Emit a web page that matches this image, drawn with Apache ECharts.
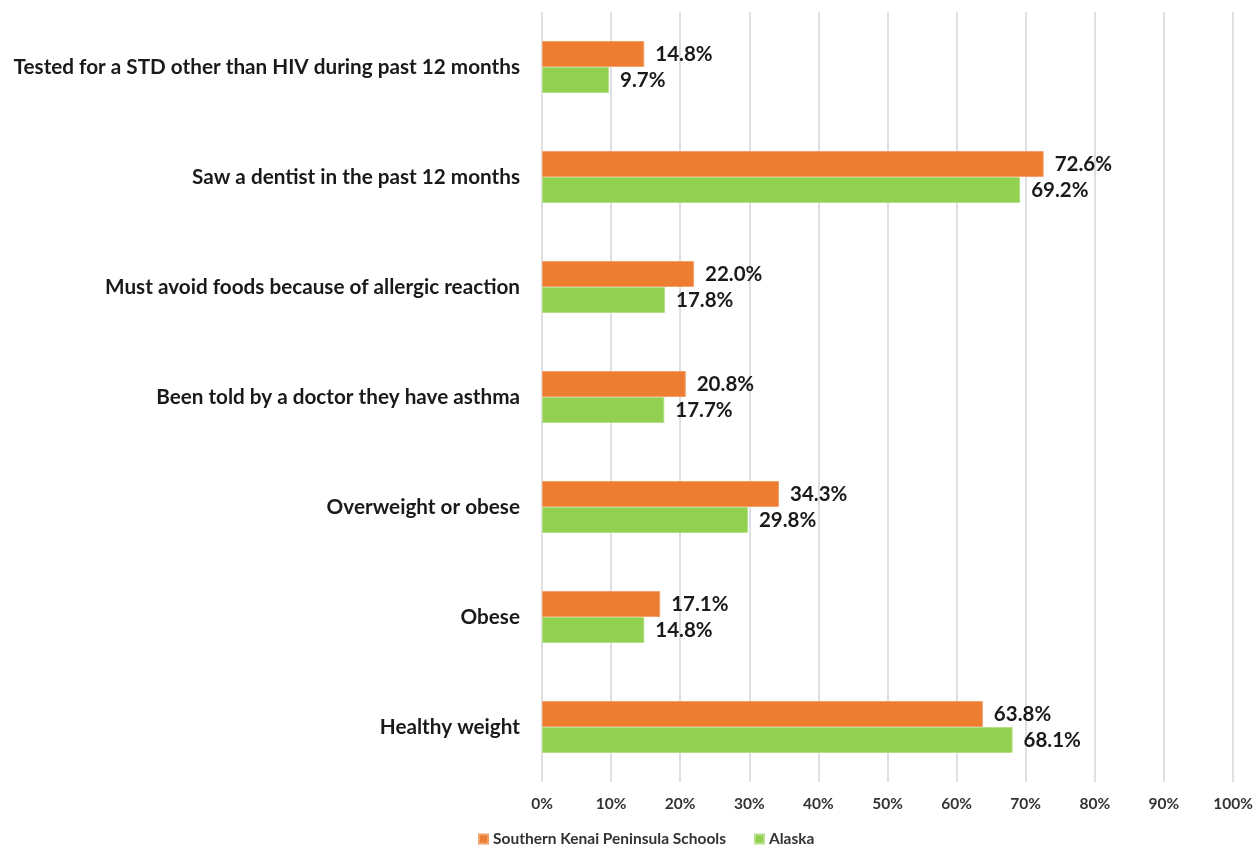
<!DOCTYPE html>
<html>
<head>
<meta charset="utf-8">
<style>
  html, body { margin: 0; padding: 0; background: #fff; }
  #chart { width: 1258px; height: 846px; }
</style>
<script src="https://cdn.jsdelivr.net/npm/echarts@6/dist/echarts.min.js"></script>
</head>
<body>
<div id="chart"></div>
<script>
// Health indicators, share of students (%)
const categories = [
  'Tested for a STD other than HIV during past 12 months',
  'Saw a dentist in the past 12 months',
  'Must avoid foods because of allergic reaction',
  'Been told by a doctor they have asthma',
  'Overweight or obese',
  'Obese',
  'Healthy weight'
];
const kenaiValues = [14.8, 72.6, 22.0, 20.8, 34.3, 17.1, 63.8];
const alaskaValues = [9.7, 69.2, 17.8, 17.7, 29.8, 14.8, 68.1];
const seriesNames = ['Southern Kenai Peninsula Schools', 'Alaska'];

const FONT = 'Lato, "Noto Sans", sans-serif';
const chart = echarts.init(document.getElementById('chart'));

const valueLabel = {
  show: true,
  position: 'right',
  distance: 11,
  formatter: p => p.value.toFixed(1) + '%',
  fontFamily: FONT,
  fontWeight: 'bold',
  fontSize: 20.5,
  color: '#1a1a1a'
};

chart.setOption({
  animation: false,
  grid: { left: 542, right: 25, top: 12, bottom: 64, containLabel: false },
  legend: {
    top: 831,
    left: 478,
    padding: 0,
    itemWidth: 9,
    itemHeight: 9,
    itemGap: 28,
    icon: 'rect',
    textStyle: { fontFamily: FONT, fontWeight: 'bold', fontSize: 15.5, color: '#333' },
    data: seriesNames
  },
  xAxis: {
    type: 'value',
    min: 0,
    max: 100,
    interval: 10,
    axisLine: { show: false },
    axisTick: { show: false },
    splitLine: { show: true, lineStyle: { color: '#d4d4d4', width: 1.5 } },
    axisLabel: {
      formatter: v => v + '%',
      fontFamily: FONT,
      fontWeight: 'bold',
      fontSize: 15.5,
      color: '#333',
      margin: 14
    }
  },
  yAxis: {
    type: 'category',
    inverse: true,
    data: categories,
    axisLine: { show: false },
    axisTick: { show: false },
    axisLabel: {
      fontFamily: FONT,
      fontWeight: 'bold',
      fontSize: 20.7,
      color: '#1a1a1a',
      margin: 22
    }
  },
  series: [
    {
      name: seriesNames[0],
      type: 'bar',
      data: kenaiValues,
      barWidth: 26,
      barGap: '0%',
      itemStyle: { color: '#ED7D31', borderColor: '#F4A06A', borderWidth: 1 },
      label: valueLabel
    },
    {
      name: seriesNames[1],
      type: 'bar',
      data: alaskaValues,
      barWidth: 26,
      barGap: '0%',
      itemStyle: { color: '#92D050', borderColor: '#B5E08A', borderWidth: 1 },
      label: valueLabel
    }
  ]
});
</script>
</body>
</html>
